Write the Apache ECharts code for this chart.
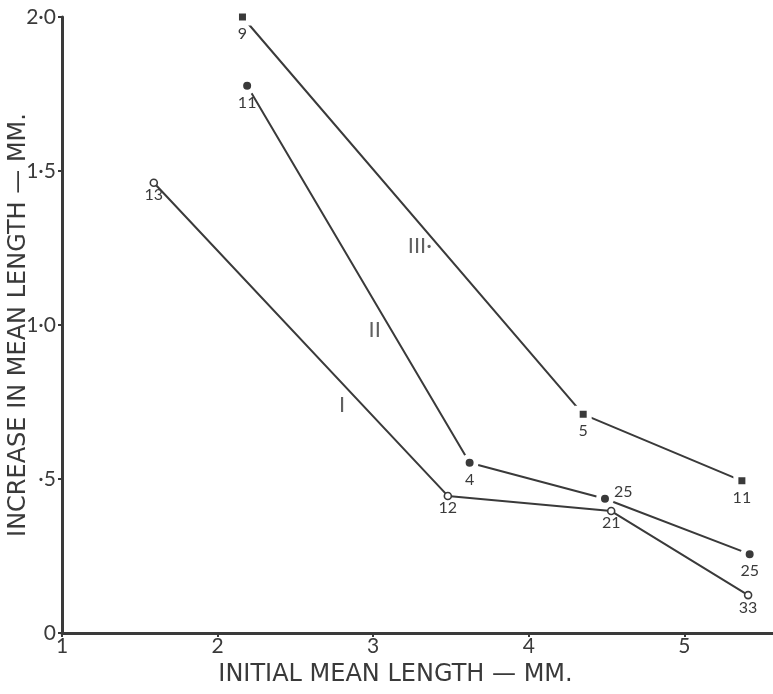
<!DOCTYPE html>
<html lang="en">
  <head>
    <meta charset="utf-8" />
    <script type="text/javascript" src="https://cdn.jsdelivr.net/npm/echarts@6/dist/echarts.min.js"></script>
    <title>Increase in mean length</title>
    <style>
      html, body { margin: 0; padding: 0; background: #fff; }
      #chart { width: 773px; height: 694px; }
    </style>
  </head>
  <body>
    <div id="chart"></div>
    <script>
      // curve I (open circles)
      var xI = [1.59, 3.48, 4.53, 5.41]
      var yI = [1.462, 0.445, 0.396, 0.123]
      var nI = [13, 12, 21, 33]
      // curve II (filled circles)
      var xII = [2.19, 3.62, 4.49, 5.42]
      var yII = [1.777, 0.553, 0.436, 0.256]
      var nII = [11, 4, 25, 25]
      // curve III (filled squares)
      var xIII = [2.16, 4.35, 5.37]
      var yIII = [2.0, 0.71, 0.494]
      var nIII = [9, 5, 11]
      // curve names written beside the lines
      var curveNames = ['I', 'II', 'III·']
      var curveNameX = [2.80, 3.01, 3.30]
      var curveNameY = [0.74, 0.984, 1.256]
      var yTickLabels = { 0: '0', 0.5: '·5', 1: '1·0', 1.5: '1·5', 2: '2·0' }

      var ink = '#3a3a3a'
      var font = 'Lato'
      var titleFont = 'DejaVu Sans'

      function points (xs, ys, ns, rightIdx) {
        return xs.map(function (x, i) {
          var item = { value: [x, ys[i], ns[i]] }
          if (i === rightIdx) item.label = { position: 'right', offset: [0, -7] }
          return item
        })
      }

      function curve (name, xs, ys, ns, symbol, size, style, rightIdx) {
        return {
          name: name,
          type: 'line',
          data: points(xs, ys, ns, rightIdx),
          symbol: symbol,
          symbolSize: size,
          showAllSymbol: true,
          lineStyle: { color: ink, width: 2 },
          itemStyle: style,
          label: {
            show: true,
            position: 'bottom',
            distance: 0,
            formatter: function (p) { return p.value[2] },
            color: ink,
            fontFamily: font,
            fontSize: 16
          },
          emphasis: { disabled: true },
          z: 3
        }
      }

      var chart = echarts.init(document.getElementById('chart'))
      chart.setOption({
        animation: false,
        backgroundColor: '#fff',
        grid: { left: 62, right: 0, top: 17, bottom: 61, containLabel: false, outerBoundsMode: 'none' },
        xAxis: {
          type: 'value',
          min: 1,
          max: 5.57,
          interval: 1,
          name: 'INITIAL MEAN LENGTH — MM.',
          nameLocation: 'middle',
          nameGap: 30,
          nameMoveOverlap: false,
          nameTextStyle: { color: ink, fontFamily: titleFont, fontSize: 24, padding: [0, 44, 0, 0] },
          axisLine: { show: true, lineStyle: { color: ink, width: 3 } },
          axisTick: { show: true, length: 4, lineStyle: { color: ink, width: 2 } },
          axisLabel: {
            color: ink, fontFamily: font, fontSize: 21, margin: 3,
            showMaxLabel: false,
            formatter: function (v) { return Math.abs(v - Math.round(v)) < 1e-6 ? String(Math.round(v)) : '' }
          },
          splitLine: { show: false }
        },
        yAxis: {
          type: 'value',
          min: 0,
          max: 2,
          interval: 0.5,
          name: 'INCREASE IN MEAN LENGTH — MM.',
          nameLocation: 'middle',
          nameGap: 31,
          nameMoveOverlap: false,
          nameTextStyle: { color: ink, fontFamily: titleFont, fontSize: 24 },
          axisLine: { show: true, lineStyle: { color: ink, width: 3 } },
          axisTick: { show: true, length: 4, lineStyle: { color: ink, width: 2 } },
          axisLabel: {
            color: ink, fontFamily: font, fontSize: 21, margin: 6,
            formatter: function (v) { return yTickLabels[v] }
          },
          splitLine: { show: false }
        },
        series: [
          curve('I', xI, yI, nI, 'circle', 7, { color: '#fff', borderColor: ink, borderWidth: 1.6 }, -1),
          curve('II', xII, yII, nII, 'circle', 13, { color: ink, borderColor: '#fff', borderWidth: 5 }, 2),
          curve('III', xIII, yIII, nIII, 'rect', 12, { color: ink, borderColor: '#fff', borderWidth: 5 }, -1),
          {
            type: 'scatter',
            data: curveNames.map(function (n, i) { return [curveNameX[i], curveNameY[i], n] }),
            symbolSize: 0,
            label: {
              show: true,
              position: 'inside',
              formatter: function (p) { return p.value[2] },
              color: ink,
              fontFamily: font,
              fontSize: 22
            },
            emphasis: { disabled: true },
            silent: true
          }
        ]
      })
    </script>
  </body>
</html>
